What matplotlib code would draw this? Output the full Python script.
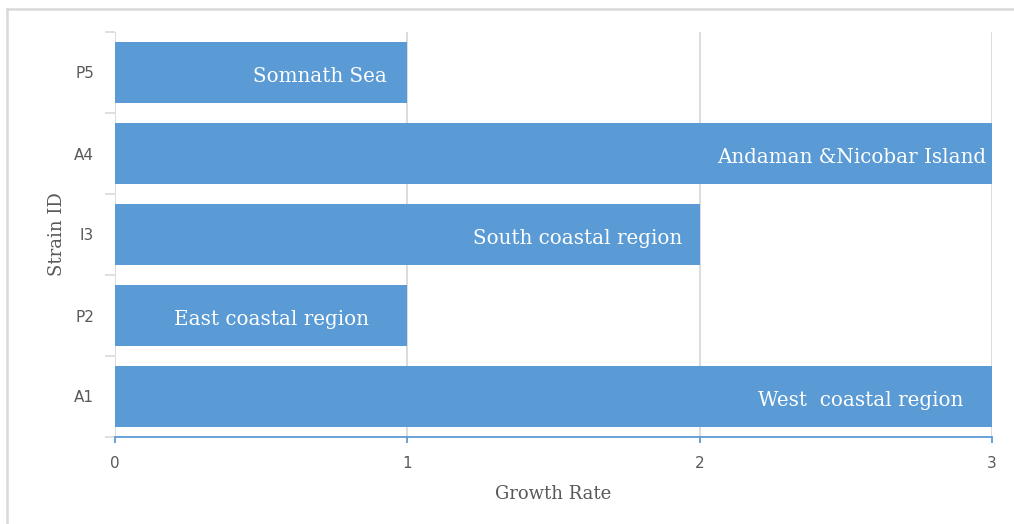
import matplotlib.pyplot as plt

# Strain data, bottom to top
strains = ["A1", "P2", "I3", "A4", "P5"]
growth_rate = [3, 1, 2, 3, 1]
regions = ["West  coastal region", "East coastal region", "South coastal region",
           "Andaman &Nicobar Island", "Somnath Sea"]
# right edge of each in-bar label, in growth-rate units
label_end = [2.90, 0.87, 1.94, 2.98, 0.93]
x_ticks = [0, 1, 2, 3]

BAR = "#5B9BD5"
GRID = "#D9D9D9"
TXT = "#595959"

W, H = 1014, 524
fig = plt.figure(figsize=(W / 100, H / 100), dpi=100)

# axes box in pixel coordinates
x0, x1 = 115, 992
y0, y1 = 32, 437
ax = fig.add_axes([x0 / W, 1 - y1 / H, (x1 - x0) / W, (y1 - y0) / H])

ypos = list(range(len(strains)))
ax.barh(ypos, growth_rate, height=0.76, color=BAR, zorder=3)

for y, lab, xe in zip(ypos, regions, label_end):
    ax.text(xe, y - 0.05, lab, ha="right", va="center", color="white",
            family="DejaVu Serif", fontsize=14.3, zorder=4)

ax.set_xlim(0, 3)
ax.set_ylim(-0.5, len(strains) - 0.5)
ax.set_xticks(x_ticks)
ax.set_xticklabels([str(t) for t in x_ticks])
ax.set_yticks(ypos)
ax.set_yticklabels(strains)
ax.set_yticks([i - 0.5 for i in range(len(strains) + 1)], minor=True)

ax.grid(axis="x", color=GRID, linewidth=1.3, zorder=0)
ax.grid(axis="y", visible=False)
for s in ["top", "right", "left"]:
    ax.spines[s].set_visible(False)
ax.spines["bottom"].set_color(BAR)
ax.spines["bottom"].set_linewidth(1.3)

ax.tick_params(axis="y", which="major", length=0, pad=15, labelsize=11,
               labelcolor=TXT)
ax.tick_params(axis="y", which="minor", length=7, color=GRID, width=1.2)
ax.tick_params(axis="x", length=4, color=BAR, width=1.3, pad=10,
               labelsize=11, labelcolor=TXT)

ax.set_xlabel("Growth Rate", family="DejaVu Serif", fontsize=13,
              color=TXT, labelpad=10)
ax.set_ylabel("Strain ID", family="DejaVu Serif", fontsize=13,
              color=TXT, labelpad=6)

# outer chart frame (open on right and bottom)
fig.add_artist(plt.Line2D([7 / W, 7 / W], [0, 1 - 9 / H], transform=fig.transFigure,
                          color=GRID, linewidth=1.8))
fig.add_artist(plt.Line2D([7 / W, 1], [1 - 9 / H, 1 - 9 / H], transform=fig.transFigure,
                          color=GRID, linewidth=1.8))

fig.savefig("out.png", dpi=100)
